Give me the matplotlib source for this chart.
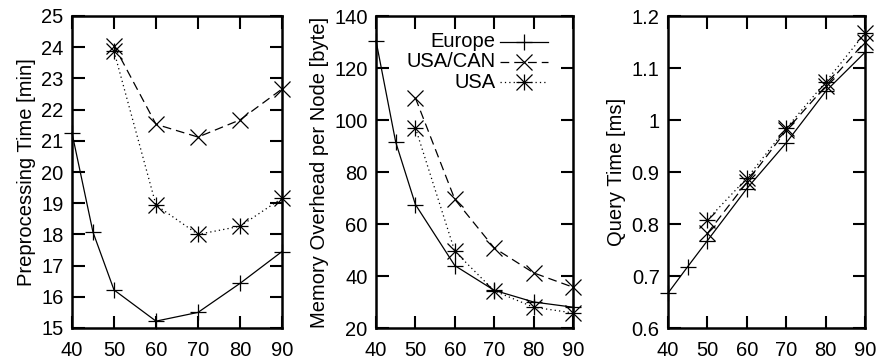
import matplotlib
matplotlib.use('Agg')
import matplotlib.pyplot as plt

plt.rcParams['font.family'] = ['Liberation Sans', 'DejaVu Sans']

# x values (percentages)
x_eu = [40, 45, 50, 60, 70, 80, 90]
x_us = [50, 60, 70, 80, 90]

# preprocessing time [min]
pre_eu = [21.25, 18.07, 16.22, 15.22, 15.5, 16.43, 17.45]
pre_uscan = [24.05, 21.53, 21.12, 21.67, 22.66]
pre_usa = [23.87, 18.94, 18.0, 18.26, 19.16]

# memory overhead per node [byte]
mem_eu = [130.5, 91.5, 67.5, 44, 34.5, 30, 28]
mem_uscan = [108.5, 69.5, 50.8, 41.2, 35.7]
mem_usa = [97, 49.5, 34.3, 28, 25.8]

# query time [ms]
q_eu = [0.667, 0.718, 0.768, 0.868, 0.956, 1.055, 1.13]
q_uscan = [0.782, 0.88, 0.98, 1.065, 1.15]
q_usa = [0.808, 0.888, 0.984, 1.073, 1.167]

labels = ['Europe', 'USA/CAN', 'USA']
# gnuplot like: +, x and * (= + and x on top of each other)
styles = [dict(ls='-', markers=['+']),
          dict(ls=(0, (7, 4)), markers=['x']),
          dict(ls=(0, (1, 2.5)), markers=['+', 'x'])]
MS = 12
LW = 0.9

fig = plt.figure(figsize=(8.8, 3.63), dpi=100)
ax1 = fig.add_axes([72/880, 35/363, 210/880, 312/363])
ax2 = fig.add_axes([376/880, 35/363, 197/880, 312/363])
ax3 = fig.add_axes([668/880, 35/363, 197/880, 312/363])

panels = [
    (ax1, [pre_eu, pre_uscan, pre_usa], (15, 25), range(15, 26), 'Preprocessing Time [min]'),
    (ax2, [mem_eu, mem_uscan, mem_usa], (20, 140), range(20, 141, 20), 'Memory Overhead per Node [byte]'),
    (ax3, [q_eu, q_uscan, q_usa], (0.6, 1.2), [0.6, 0.7, 0.8, 0.9, 1.0, 1.1, 1.2], 'Query Time [ms]'),
]

for ax, series, ylim, yt, ylab in panels:
    for ys, st in zip(series, styles):
        xs = x_eu if len(ys) == len(x_eu) else x_us
        ax.plot(xs, ys, color='black', lw=LW, ls=st['ls'], clip_on=False)
        for m in st['markers']:
            ax.plot(xs, ys, color='black', ls='none', marker=m, ms=MS, mew=LW, clip_on=False)
    ax.set_xlim(40, 90)
    ax.set_ylim(*ylim)
    ax.set_xticks(range(40, 91, 10))
    ax.set_yticks(list(yt))
    if ax is ax3:
        ax.set_yticklabels(['0.6', '0.7', '0.8', '0.9', '1', '1.1', '1.2'])
    ax.tick_params(direction='in', length=9, width=1.5, top=True, right=True,
                   labelsize=14.5, pad=6)
    ax.tick_params(axis='x', pad=9)
    for sp in ax.spines.values():
        sp.set_linewidth(1.8)
    ax.set_ylabel(ylab, fontsize=14.5, labelpad=4)

# gnuplot style key, text right aligned before the sample
key_y = [0.917, 0.853, 0.788]
for lab, st, ky in zip(labels, styles, key_y):
    ax2.text(0.605, ky, lab, transform=ax2.transAxes, ha='right', va='center', fontsize=14.5)
    ax2.plot([0.63, 0.875], [ky, ky], transform=ax2.transAxes, color='black', lw=LW, ls=st['ls'])
    for m in st['markers']:
        ax2.plot([0.7525], [ky], transform=ax2.transAxes, color='black', marker=m,
                 ms=MS, mew=LW, ls='none')

fig.savefig('out.png', dpi=100)
